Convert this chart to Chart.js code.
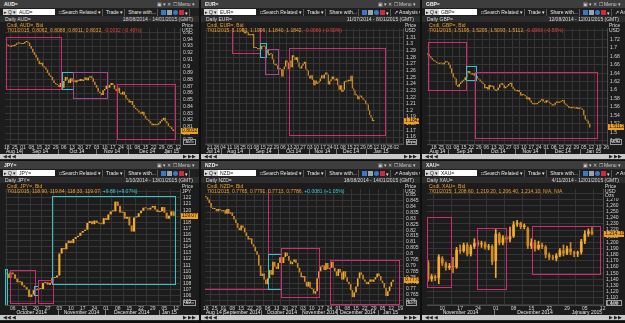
<!DOCTYPE html>
<html>
<head>
<meta charset="utf-8">
<title>Daily FX candles</title>
<script src="https://cdn.jsdelivr.net/npm/chart.js@4.4.1/dist/chart.umd.min.js"></script>
<style>
  html, body { margin: 0; padding: 0; width: 625px; height: 323px; overflow: hidden; background: #0f0f0f; }
  body { position: relative; font-family: "Liberation Sans", Arial, sans-serif; }
  .panel { position: absolute; height: 160px; background: #262626; overflow: hidden; }
  .tbar { position: absolute; left: 0; right: 0; top: 0; height: 8px; background: #3d3d3d; color: #f2f2f2; font-size: 5px; line-height: 8px; }
  .tbar .t { position: absolute; left: 4px; font-weight: bold; }
  .tbar .r { position: absolute; right: 4px; color: #cfcfcf; }
  .tool { position: absolute; left: 0; right: 0; top: 8px; height: 8px; background: #1f1f1f; font-size: 5px; line-height: 6px; color: #e8e8e8; white-space: nowrap; }
  .inp { position: absolute; left: 3px; top: 1px; width: 52px; height: 6px; background: #fff; color: #222; }
  .inp b { display: inline-block; width: 14px; background: #d6d6d6; font-weight: normal; text-align: center; margin-right: 2px; }
  .btns { position: absolute; left: 58px; top: 1px; display: flex; gap: 2px; }
  .btns span { padding: 0 1px; border-right: 1px solid #555; }
  .ico { display: inline-block; width: 5px; height: 5px; margin: 0.5px 1px 0 0; }
  .chead { position: absolute; left: 0; right: 0; top: 16px; height: 6px; background: #2c2c2c; color: #dcdcdc; font-size: 5px; line-height: 6px; }
  .chead .l { position: absolute; left: 5px; }
  .chead .r { position: absolute; right: 6px; }
  canvas { position: absolute; left: 0; top: 22px; }
  .leg { position: absolute; top: 23px; font-size: 5px; line-height: 4.5px; color: #f0a030; white-space: nowrap; }
  .axlab { position: absolute; top: 23px; background: #1c1c1c; color: #dedede; font-size: 5px; line-height: 4.5px; }
  .auto { position: absolute; top: 139px; height: 4px; border: 1px solid #9a9a9a; color: #dedede; font-size: 4px; line-height: 4px; text-align: center; }
  .scroll { position: absolute; left: 0; right: 0; top: 154px; height: 5px; background: #c9c9c9; }
  .scroll .a { position: absolute; top: 0; font-size: 5px; line-height: 5px; color: #222; }
</style>
</head>
<body>
<div id="wrap"></div>
<script>
// ----- AUD= (index 0 = Mon 18 Aug 2014) -----
const audWeeks = ['18','25','01','08','15','22','29','06','13','20','27','03','10','17','24','01','08','15','22','29','05','12'];
const audMonths = [['Aug 14', -5, 9.5], ['Sep 14', 9.5, 31.5], ['Oct 14', 31.5, 54.5], ['Nov 14', 54.5, 74.5], ['Dec 14', 74.5, 97.5], ['Jan 15', 97.5, 118]];
const audY = [0.79, 0.80, 0.81, 0.82, 0.83, 0.84, 0.85, 0.86, 0.87, 0.88, 0.89, 0.90, 0.91, 0.92, 0.93, 0.94, 0.95];
const audClose = [
  0.932, 0.930, 0.929, 0.931, 0.930,  0.932, 0.934, 0.935, 0.934, 0.933,
  0.934, 0.936, 0.937, 0.935, 0.930,  0.926, 0.921, 0.917, 0.913, 0.908,
  0.903, 0.905, 0.900, 0.898, 0.895,  0.890, 0.886, 0.884, 0.879, 0.875,
  0.873, 0.872, 0.869, 0.875, 0.868,  0.878, 0.884, 0.880, 0.875, 0.882,
  0.877, 0.879, 0.876, 0.879, 0.878,  0.881, 0.878, 0.880, 0.883, 0.879,
  0.883, 0.885, 0.882, 0.877, 0.872,  0.868, 0.862, 0.860, 0.857, 0.864,
  0.866, 0.871, 0.868, 0.872, 0.875,  0.872, 0.866, 0.863, 0.868, 0.860,
  0.858, 0.862, 0.857, 0.852, 0.850,  0.846, 0.848, 0.842, 0.838, 0.836,
  0.834, 0.831, 0.829, 0.832, 0.826,  0.822, 0.820, 0.818, 0.815, 0.812,
  0.814, 0.812, 0.813, 0.815, 0.818,  0.820, 0.823, 0.818, 0.815, 0.811,
  0.809, 0.806, 0.8032
];
const audRects = [[-0.4, 33.3, 0.9433, 0.8653], [34, 40.5, 0.891, 0.8653], [40.5, 61.2, 0.891, 0.8533], [67.3, 103, 0.874, 0.791]];
const audKinds = ['pink', 'cyan', 'violet', 'pink'];

// ----- EUR= (index 0 = Mon 14 Jul 2014, candles from 18 Aug) -----
const eurWeeks = ['14','21','28','04','11','18','25','01','08','15','22','29','06','13','20','27','03','10','17','24','01','08','15','22','29','05','12','19','26','02'];
const eurMonths = [['Jul 14', -5, 13.5], ['Aug 14', 13.5, 34.5], ['Sep 14', 34.5, 56.5], ['Oct 14', 56.5, 79.5], ['Nov 14', 79.5, 99.5], ['Dec 14', 99.5, 122.5], ['Jan 15', 122.5, 144.5]];
const eurY = [1.15, 1.16, 1.17, 1.18, 1.19, 1.20, 1.21, 1.22, 1.23, 1.24, 1.25, 1.26, 1.27, 1.28, 1.29, 1.30, 1.31, 1.32];
const eurClose = [
  1.336, 1.331, 1.326, 1.328, 1.324,  1.319, 1.316, 1.318, 1.317, 1.313,
  1.313, 1.313, 1.315, 1.294, 1.295,  1.294, 1.292, 1.292, 1.292, 1.297,
  1.296, 1.296, 1.286, 1.292, 1.283,  1.285, 1.285, 1.277, 1.270, 1.268,
  1.268, 1.262, 1.262, 1.262, 1.251,  1.262, 1.266, 1.275, 1.272, 1.262,
  1.275, 1.265, 1.283, 1.280, 1.276,  1.280, 1.272, 1.265, 1.263, 1.267,
  1.270, 1.273, 1.262, 1.260, 1.252,  1.248, 1.253, 1.246, 1.238, 1.245,
  1.240, 1.242, 1.244, 1.248, 1.253,  1.248, 1.254, 1.257, 1.254, 1.239,
  1.244, 1.247, 1.251, 1.247, 1.245,  1.248, 1.238, 1.231, 1.238, 1.228,
  1.231, 1.244, 1.243, 1.244, 1.246,  1.244, 1.252, 1.233, 1.230, 1.223,
  1.223, 1.217, 1.221, 1.222, 1.219,  1.216, 1.215, 1.210, 1.209, 1.200,
  1.193, 1.189, 1.184, 1.1842
];
const eurRects = [[22, 42.75, 1.36, 1.286], [42.75, 47.25, 1.3014, 1.28], [46.5, 56.5, 1.2924, 1.2552], [64.5, 136.5, 1.2943, 1.1624]];
const eurKinds = ['pink', 'cyan', 'violet', 'pink'];

// ----- GBP= (index 0 = Mon 11 Aug 2014, candles from 12 Aug) -----
const gbpWeeks = ['11','18','25','01','08','15','22','29','06','13','20','27','03','10','17','24','01','08','15','22','29','05','12','19','26'];
const gbpMonths = [['Aug 14', -5, 14.5], ['Sep 14', 14.5, 36.5], ['Oct 14', 36.5, 59.5], ['Nov 14', 59.5, 79.5], ['Dec 14', 79.5, 102.5], ['Jan 15', 102.5, 124.5]];
const gbpY = [1.48, 1.50, 1.52, 1.54, 1.56, 1.58, 1.60, 1.62, 1.64, 1.66, 1.68, 1.70, 1.72, 1.74];
const gbpClose = [
  1.684, 1.680, 1.676, 1.672,
  1.669, 1.667, 1.664, 1.662, 1.664,  1.663, 1.661, 1.665, 1.668, 1.666,
  1.660, 1.651, 1.640, 1.630, 1.627,  1.612, 1.608, 1.614, 1.618, 1.622,
  1.624, 1.630, 1.641, 1.645, 1.640,  1.637, 1.640, 1.634, 1.633, 1.627,
  1.625, 1.621, 1.617, 1.614, 1.604,  1.607, 1.601, 1.612, 1.608, 1.610,
  1.602, 1.598, 1.600, 1.606, 1.613,  1.616, 1.612, 1.604, 1.608, 1.610,
  1.614, 1.617, 1.608, 1.603, 1.599,  1.597, 1.600, 1.595, 1.587, 1.590,
  1.588, 1.585, 1.578, 1.582, 1.575,  1.570, 1.566, 1.568, 1.566, 1.569,
  1.572, 1.575, 1.578, 1.573, 1.570,  1.576, 1.572, 1.570, 1.567, 1.563,
  1.565, 1.570, 1.573, 1.570, 1.572,  1.574, 1.576, 1.568, 1.565, 1.562,
  1.558, 1.557, 1.560, 1.558, 1.556,  1.559, 1.555, 1.558, 1.556, 1.553,
  1.540, 1.530, 1.527, 1.520, 1.5112
];
const gbpRects = [[1, 26.3, 1.7141, 1.60], [26.6, 33, 1.657, 1.6237], [32.6, 113.7, 1.6422, 1.4867]];
const gbpKinds = ['pink', 'cyan', 'pink'];

// ----- JPY= (index 0 = Mon 29 Sep 2014, candles from 1 Oct) -----
const jpyWeeks = ['29','06','13','20','27','03','10','17','24','01','08','15','22','29','05','12'];
const jpyMonths = [['October 2014', 1.5, 24.5], ['November 2014', 24.5, 44.5], ['December 2014', 44.5, 67.5], ['Jan 15', 67.5, 89.5]];
const jpyY = [105, 106, 107, 108, 109, 110, 111, 112, 113, 114, 115, 116, 117, 118, 119, 120, 121, 122, 123];
const jpyClose = [
  109.6, 108.9, 109.8,
  109.5, 108.8, 108.2, 108.3, 107.7,  107.4, 107.0, 105.8, 106.2, 106.9,
  106.9, 107.2, 107.1, 108.1, 108.2,  107.8, 108.1, 108.9, 109.0, 109.3,
  112.9, 113.8, 113.6, 114.6, 115.0,  114.6, 115.3, 115.6, 115.8, 116.3,
  116.6, 116.8, 117.9, 118.2, 117.7,  118.3, 117.9, 117.8, 117.7, 118.7,
  118.4, 119.3, 119.8, 119.8, 121.4,  120.7, 119.6, 119.7, 118.6, 118.9,
  117.5, 116.5, 118.8, 118.9, 119.5,  119.9, 120.4, 120.3, 120.1, 120.4,
  120.7, 120.1, 119.7, 119.8, 120.5,  119.6, 118.6, 119.1, 119.8, 119.07
];
const jpyRects = [[1.71, 2.71, 110.35, 104.0], [3.86, 14.57, 110.25, 104.85], [14.3, 16, 107.63, 106.16], [16, 22.43, 108.52, 104.85], [22, 74.57, 122.31, 107.84]];
const jpyKinds = ['cyan', 'pink', 'cyan', 'pink', 'cyan'];

// ----- NZD= (index 0 = Mon 18 Aug 2014) -----
const nzdWeeks = ['18','25','01','08','15','22','29','06','13','20','27','03','10','17','24','01','08','15','22','29','05','12','19'];
const nzdMonths = [['Aug 14', -5, 9.5], ['September 2014', 9.5, 31.5], ['October 2014', 31.5, 54.5], ['November 2014', 54.5, 74.5], ['December 2014', 74.5, 97.5], ['Jan 15', 97.5, 118]];
const nzdY = [0.760, 0.765, 0.770, 0.775, 0.780, 0.785, 0.790, 0.795, 0.800, 0.805, 0.810, 0.815, 0.820, 0.825, 0.830, 0.835, 0.840, 0.845, 0.850];
const nzdClose = [
  0.848, 0.846, 0.843, 0.839, 0.838,  0.838, 0.836, 0.838, 0.837, 0.836,
  0.837, 0.834, 0.838, 0.834, 0.835,  0.832, 0.829, 0.826, 0.822, 0.820,
  0.824, 0.822, 0.818, 0.815, 0.812,  0.813, 0.808, 0.806, 0.802, 0.799,
  0.790, 0.781, 0.783, 0.778, 0.774,  0.779, 0.786, 0.782, 0.793, 0.789,
  0.787, 0.792, 0.797, 0.792, 0.797,  0.801, 0.798, 0.794, 0.791, 0.793,
  0.795, 0.792, 0.788, 0.784, 0.780,  0.781, 0.776, 0.772, 0.776, 0.771,
  0.770, 0.766, 0.768, 0.779, 0.785,  0.789, 0.790, 0.786, 0.792, 0.787,
  0.788, 0.793, 0.788, 0.785, 0.781,  0.787, 0.784, 0.778, 0.785, 0.780,
  0.776, 0.774, 0.769, 0.763, 0.767,  0.772, 0.779, 0.784, 0.782, 0.778,
  0.776, 0.774, 0.776, 0.778, 0.776,  0.778, 0.780, 0.783, 0.781, 0.777,
  0.775, 0.771, 0.764, 0.768, 0.772,  0.776, 0.7778
];
const nzdRects = [[-3, 35.4, 0.87, 0.7697], [35.4, 42.6, 0.7993, 0.7697], [42.6, 64.1, 0.8052, 0.7635], [70.5, 109.5, 0.795, 0.7568]];
const nzdKinds = ['pink', 'cyan', 'pink', 'pink'];

// ----- XAU= (index 0 = Mon 3 Nov 2014, candles from 4 Nov) -----
const xauWeeks = ['03','10','17','24','01','08','15','22','29','05','12'];
const xauMonths = [['November 2014', -5, 19.5], ['December 2014', 19.5, 42.5], ['January 2015', 42.5, 62.5]];
const xauY = [1100, 1110, 1120, 1130, 1140, 1150, 1160, 1170, 1180, 1190, 1200, 1210, 1220, 1230, 1240, 1250, 1260, 1270, 1280];
const xauOpen = [
  1168, 1141, 1145, 1142,  1174, 1166, 1159, 1162, 1160,  1188, 1186, 1196, 1181, 1193,
  1199, 1197, 1198, 1192, 1194,  1170, 1214, 1199, 1208, 1205,  1210, 1229, 1232, 1225, 1223,
  1194, 1200, 1190, 1196, 1193,  1180, 1176, 1174, 1179, 1187,  1182, 1190, 1184, 1182, 1184,
  1202, 1214, 1218
];
const xauHigh = [
  1171, 1148, 1147, 1180,  1177, 1168, 1166, 1176, 1192,  1196, 1199, 1199, 1196, 1206,
  1203, 1202, 1201, 1197, 1196,  1221, 1216, 1211, 1211, 1225,  1234, 1236, 1233, 1230, 1225,
  1206, 1204, 1202, 1199, 1195,  1183, 1179, 1182, 1190, 1196,  1194, 1200, 1186, 1186, 1205,
  1219, 1222, 1224
];
const xauLow = [
  1137, 1137, 1138, 1133,  1162, 1155, 1156, 1151, 1158,  1182, 1184, 1178, 1178, 1190,
  1194, 1192, 1189, 1188, 1164,  1143, 1196, 1196, 1200, 1201,  1208, 1226, 1222, 1222, 1190,
  1190, 1186, 1188, 1190, 1175,  1172, 1172, 1170, 1177, 1178,  1180, 1180, 1177, 1177, 1181,
  1198, 1210, 1212
];
const xauClose = [
  1141, 1145, 1142, 1177,  1166, 1159, 1162, 1160, 1188,  1186, 1196, 1181, 1193, 1199,
  1197, 1198, 1192, 1194, 1168,  1214, 1199, 1208, 1205, 1210,  1229, 1232, 1225, 1228, 1194,
  1200, 1190, 1196, 1193, 1180,  1176, 1174, 1179, 1187, 1182,  1190, 1184, 1182, 1184, 1202,
  1214, 1218, 1214.1
];
const xauRects = [[0.6, 7.4, 1240.5, 1127.7], [14.6, 23.0, 1223.6, 1124.1], [30.2, 49.2, 1227.2, 1149.2]];
const xauKinds = ['pink', 'pink', 'pink'];

const UP = '#f6aa2c', DOWN = '#d08a22';
const ZONE = { pink: '#d42a74', violet: '#ac4496', cyan: '#38c4cc' };
const RED = '#e2403a', CYAN = '#3cc8d0';
const fx4 = v => v.toFixed(4);
const short = v => String(+v.toFixed(4));

const panels = [
  { ric: 'AUD=', left: 0, top: 0, w: 199, plotL: 5, plotR: 180, xmin: -1.02, xmax: 106.1, ymin: 0.784, ymax: 0.957,
    start: 0, close: audClose, weeks: audWeeks, months: audMonths, yticks: audY, rects: audRects, kinds: audKinds,
    unit: 'USD', range: '18/08/2014 - 14/01/2015 (GMT)', legend: '7/01/2015, 0.8062, 0.8088, 0.8011, 0.8032,',
    change: ' -0.0032 (-0.40%)', changeColor: RED, fmt: fx4, ylab: short },
  { ric: 'EUR=', left: 201, top: 0, w: 219, plotL: 4, plotR: 202, xmin: 1.5, xmax: 150, ymin: 1.1496, ymax: 1.3239,
    start: 25, close: eurClose, weeks: eurWeeks, months: eurMonths, yticks: eurY, rects: eurRects, kinds: eurKinds,
    unit: 'USD', range: '11/07/2014 - 8/01/2015 (GMT)', legend: '7/01/2015, 1.1900, 1.1906, 1.1840, 1.1842,',
    change: ' -0.0060 (-0.50%)', changeColor: RED, fmt: fx4, ylab: short, wide: true },
  { ric: 'GBP=', left: 422, top: 0, w: 203, plotL: 5, plotR: 185, xmin: 0.53, xmax: 120.5, ymin: 1.472, ymax: 1.747,
    start: 1, close: gbpClose, weeks: gbpWeeks, months: gbpMonths, yticks: gbpY, rects: gbpRects, kinds: gbpKinds,
    unit: 'USD', range: '12/08/2014 - 12/01/2015 (GMT)', legend: '7/01/2015, 1.5195, 1.5205, 1.5093, 1.5112,',
    change: ' -0.0083 (-0.55%)', changeColor: RED, fmt: fx4, ylab: short, wide: true },
  { ric: 'JPY=', left: 0, top: 161, w: 199, plotL: 5, plotR: 180, xmin: 1.71, xmax: 76.7, ymin: 104.48, ymax: 123.46,
    start: 2, close: jpyClose, weeks: jpyWeeks, months: jpyMonths, yticks: jpyY, rects: jpyRects, kinds: jpyKinds,
    unit: 'JPY', range: '1/10/2014 - 13/01/2015 (GMT)', legend: '7/01/2015, 118.90, 119.84, 118.33, 119.07,',
    change: ' +9.88 (+9.07%)', changeColor: CYAN, fmt: v => v.toFixed(2), ylab: v => String(v) },
  { ric: 'NZD=', left: 201, top: 161, w: 219, plotL: 4, plotR: 202, xmin: -0.45, xmax: 111.6, ymin: 0.7563, ymax: 0.855,
    start: 0, close: nzdClose, weeks: nzdWeeks, months: nzdMonths, yticks: nzdY, rects: nzdRects, kinds: nzdKinds,
    unit: 'USD', range: '18/08/2014 - 14/01/2015 (GMT)', legend: '7/01/2015, 0.7765, 0.7791, 0.7713, 0.7786,',
    change: ' +0.0081 (+1.05%)', changeColor: CYAN, fmt: fx4, ylab: short, wide: true },
  { ric: 'XAU=', left: 422, top: 161, w: 203, plotL: 5, plotR: 181, xmin: 0.7, xmax: 50.1, ymin: 1098.5, ymax: 1286.7,
    start: 1, close: xauClose, open: xauOpen, high: xauHigh, low: xauLow, weeks: xauWeeks, months: xauMonths, yticks: xauY,
    rects: xauRects, kinds: xauKinds, unit: 'USD<br>Ozs', range: '4/11/2014 - 12/01/2015 (GMT)',
    legend: '7/01/2015, 1,208.60, 1,219.20, 1,206.40, 1,214.10, N/A, N/A', change: '', changeColor: RED,
    fmt: v => v.toLocaleString('en-US', { minimumFractionDigits: 2, maximumFractionDigits: 2 }),
    ylab: v => v.toLocaleString('en-US'), wide: true }
];

Chart.defaults.font.family = '"Liberation Sans", Arial, sans-serif';
Chart.defaults.font.size = 5;
Chart.defaults.color = '#cfcfcf';

function chrome(p) {
  const el = document.createElement('div');
  el.className = 'panel';
  el.style.left = p.left + 'px';
  el.style.top = p.top + 'px';
  el.style.width = p.w + 'px';
  const extra = p.wide ? '<span>&#8599; Analysis &#9662;</span>' : '';
  el.innerHTML =
    '<div class="tbar"><span class="t">' + p.ric + '</span><span class="r">&#9635; &#9662; &#10005; &#9744; Menu &#9662;</span></div>' +
    '<div class="tool"><span class="inp"><b>&#9656; Q &#9662;</b>' + p.ric + '</span>' +
    '<span class="btns"><span>&#9633;Search Related &#9662;</span><span>Trade &#9662;</span><span>Share with...</span>' +
    '<span><i class="ico" style="background:#3a78c8"></i><i class="ico" style="background:#9aa4b0"></i><i class="ico" style="background:#3a78c8;border-radius:3px"></i><i class="ico" style="background:#d02a3a"></i>&#9662;</span>' + extra + '</span></div>' +
    '<div class="chead"><span class="l">Daily ' + p.ric + '</span><span class="r">' + p.range + '</span></div>' +
    '<canvas width="' + p.w + '" height="132"></canvas>' +
    '<div class="leg" style="left:' + (p.plotL + 2) + 'px"><div>Cndl, ' + p.ric + ', Bid</div><div>' + p.legend +
      '<span style="color:' + p.changeColor + '">' + p.change + '</span></div></div>' +
    '<div class="axlab" style="left:' + (p.plotR + 2) + 'px;width:' + (p.w - p.plotR - 3) + 'px">Price<br>' + p.unit + '</div>' +
    '<div class="auto" style="left:' + (p.plotR + 3) + 'px;width:' + (p.w - p.plotR - 8) + 'px">Auto</div>' +
    '<div class="scroll"><span class="a" style="left:3px">&#9664;&#9664; &#9664;</span><span class="a" style="right:3px">&#9654; &#9654;&#9654;</span></div>';
  document.getElementById('wrap').appendChild(el);
  return el.querySelector('canvas');
}

function overlay(p) {
  return {
    id: 'overlay',
    afterDatasetsDraw(chart) {
      const { ctx, chartArea: a, scales: { x, y } } = chart;
      ctx.save();
      ctx.beginPath();
      ctx.rect(a.left, a.top, a.right - a.left, a.bottom - a.top);
      ctx.clip();
      ctx.lineWidth = 1;
      p.rects.forEach((r, k) => {
        const x0 = Math.round(x.getPixelForValue(r[0])) + 0.5;
        const x1 = Math.round(x.getPixelForValue(r[1])) + 0.5;
        const y0 = Math.round(y.getPixelForValue(r[2])) + 0.5;
        const y1 = Math.round(y.getPixelForValue(r[3])) + 0.5;
        ctx.strokeStyle = ZONE[p.kinds[k]];
        ctx.strokeRect(x0, y0, x1 - x0, y1 - y0);
      });
      ctx.restore();
    },
    afterDraw(chart) {
      const { ctx, chartArea: a, scales: { x, y } } = chart;
      ctx.save();
      ctx.font = '5px "Liberation Sans", Arial, sans-serif';
      ctx.textBaseline = 'middle';
      ctx.textAlign = 'center';
      ctx.lineWidth = 1;
      p.months.forEach(([t, from, to]) => {
        const lo = Math.max(from, x.min), hi = Math.min(to, x.max);
        if (hi <= lo) return;
        const px0 = x.getPixelForValue(lo), px1 = x.getPixelForValue(hi);
        const w = ctx.measureText(t).width;
        if (px1 - px0 < w * 0.6) return;
        const cx = Math.max(a.left + w / 2 + 1, Math.min(a.right - w / 2 - 1, (px0 + px1) / 2));
        ctx.fillStyle = '#e4e4e4';
        ctx.fillText(t, cx, a.bottom + 8);
        if (from > x.min) {
          const sx = Math.round(px0) + 0.5;
          ctx.strokeStyle = '#7a7a7a';
          ctx.beginPath();
          ctx.moveTo(sx, a.bottom + 5);
          ctx.lineTo(sx, a.bottom + 10);
          ctx.stroke();
        }
      });
      const last = p.close[p.close.length - 1];
      const ty = Math.round(y.getPixelForValue(last));
      ctx.fillStyle = '#f0a020';
      ctx.fillRect(a.right + 1, ty - 3, chart.width - a.right - 2, 6);
      ctx.fillStyle = '#111';
      ctx.textAlign = 'left';
      ctx.fillText(p.fmt(last), a.right + 2, ty);
      ctx.restore();
    }
  };
}

function draw(p) {
  const canvas = chrome(p);
  const opens = p.close.map((c, k) => p.open ? p.open[k] : (k ? p.close[k - 1] : c));
  const bodies = p.close.map((c, k) => ({ x: p.start + k, y: [opens[k], c] }));
  const colors = p.close.map((c, k) => c >= opens[k] ? UP : DOWN);
  const datasets = [{
    data: bodies, backgroundColor: colors, borderWidth: 0, grouped: false, order: 1,
    barPercentage: p.high ? 0.75 : 0.9, categoryPercentage: 1, minBarLength: 1, clip: 0
  }];
  if (p.high) {
    datasets.push({
      data: p.close.map((c, k) => ({ x: p.start + k, y: [p.low[k], p.high[k]] })),
      backgroundColor: colors, borderWidth: 0, grouped: false, order: 2, barThickness: 1, clip: 0
    });
  }
  new Chart(canvas, {
    type: 'bar',
    data: { datasets },
    options: {
      responsive: false, animation: false, devicePixelRatio: 1,
      layout: { padding: { left: p.plotL, right: 0, top: 0, bottom: 0 } },
      plugins: { legend: { display: false }, tooltip: { enabled: false } },
      scales: {
        x: {
          type: 'linear', min: p.xmin, max: p.xmax, offset: false,
          grid: { color: '#353535', drawTicks: false },
          border: { color: '#4a4a4a' },
          afterBuildTicks: s => { s.ticks = p.weeks.map((w, k) => ({ value: k * 5 })).filter(t => t.value >= s.min && t.value <= s.max); },
          afterFit: s => { s.height = 10; },
          ticks: { autoSkip: false, maxRotation: 0, minRotation: 0, padding: 1, color: '#d4d4d4',
                   callback: v => p.weeks[Math.round(v / 5)] }
        },
        y: {
          position: 'right', min: p.ymin, max: p.ymax,
          grid: { color: '#353535', drawTicks: false },
          border: { color: '#4a4a4a' },
          afterBuildTicks: s => { s.ticks = p.yticks.filter(v => v >= s.min && v <= s.max).map(v => ({ value: v })); },
          afterFit: s => { s.width = p.w - p.plotR; },
          ticks: { autoSkip: false, padding: 3, color: '#d4d4d4', callback: v => p.ylab(v) }
        }
      }
    },
    plugins: [{ id: 'bg', beforeDraw(c) { c.ctx.save(); c.ctx.fillStyle = '#1c1c1c'; c.ctx.fillRect(0, 0, c.width, c.height); c.ctx.restore(); } }, overlay(p)]
  });
}

panels.forEach(draw);
</script>
</body>
</html>
